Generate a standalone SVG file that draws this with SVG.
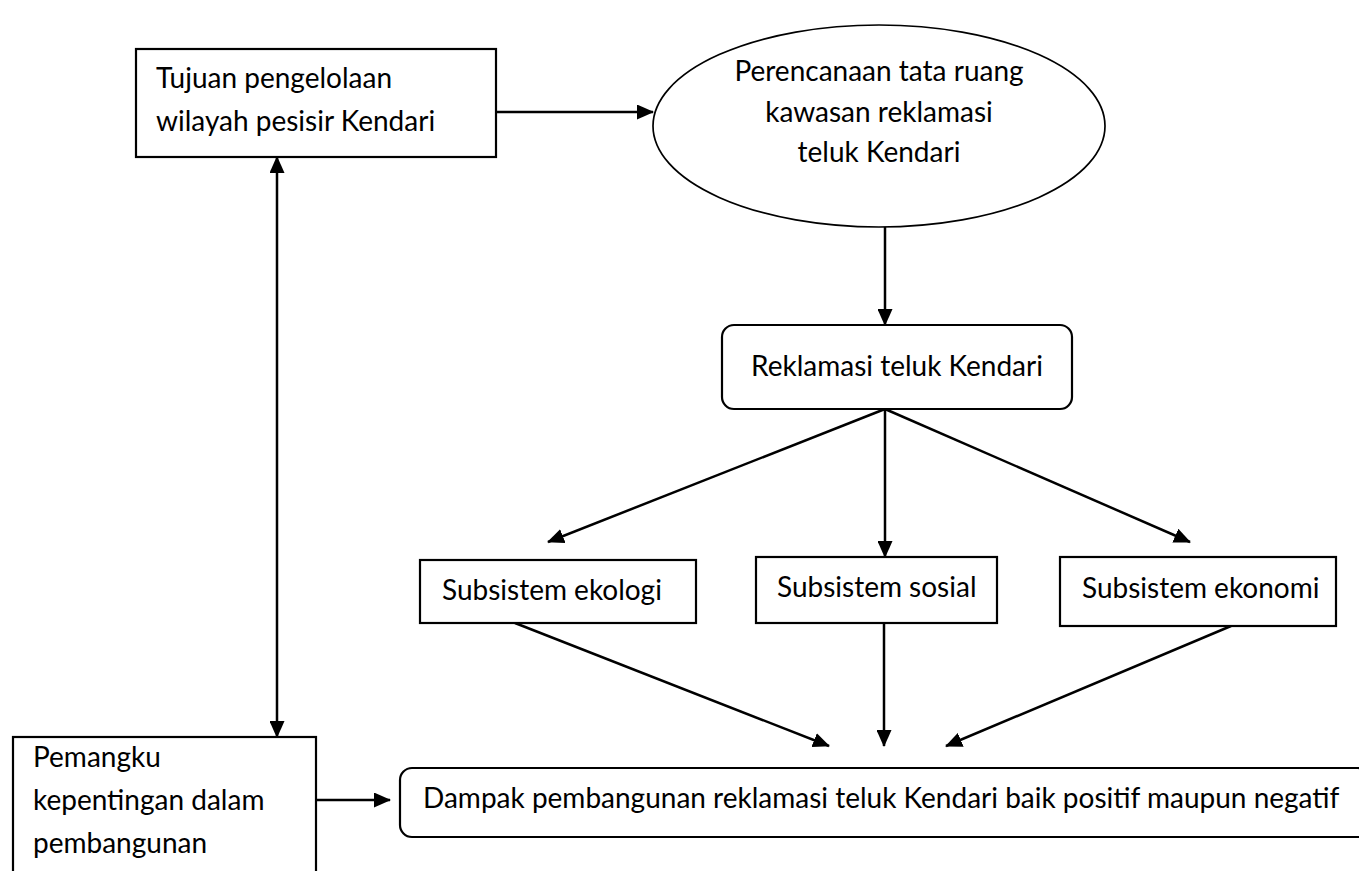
<svg xmlns="http://www.w3.org/2000/svg" width="1359" height="871" viewBox="0 0 1359 871">
<defs>
<marker id="ah" markerUnits="userSpaceOnUse" markerWidth="17" markerHeight="15" refX="16" refY="7.5" orient="auto">
<path d="M0,0 L17,7.5 L0,15 Z" fill="#000"/>
</marker>
<marker id="ahs" markerUnits="userSpaceOnUse" markerWidth="17" markerHeight="15" refX="16" refY="7.5" orient="auto-start-reverse">
<path d="M0,0 L17,7.5 L0,15 Z" fill="#000"/>
</marker>
</defs>
<style>
.box{fill:#fff;stroke:#000;stroke-width:2.2}
.ell{fill:#fff;stroke:#000;stroke-width:1.7}
.t{font-family:Lato,"Open Sans","Liberation Sans",sans-serif;font-size:28px;fill:#000}
.c{text-anchor:middle}
.ln{stroke:#000;stroke-width:2.5;fill:none}
</style>
<rect width="1359" height="871" fill="#fff"/>
<g id="connectors">
<line class="ln" x1="496" y1="112" x2="653" y2="112" marker-end="url(#ah)"/>
<line class="ln" x1="277" y1="157" x2="277" y2="737" marker-start="url(#ahs)" marker-end="url(#ahs)"/>
<line class="ln" x1="885" y1="227" x2="885" y2="325" marker-end="url(#ah)"/>
<line class="ln" x1="885" y1="409" x2="548" y2="542" marker-end="url(#ah)"/>
<line class="ln" x1="885" y1="409" x2="885" y2="557" marker-end="url(#ah)"/>
<line class="ln" x1="885" y1="409" x2="1190" y2="542" marker-end="url(#ah)"/>
<line class="ln" x1="515" y1="623" x2="829" y2="746" marker-end="url(#ah)"/>
<line class="ln" x1="884" y1="623" x2="884" y2="746" marker-end="url(#ah)"/>
<line class="ln" x1="1231" y1="626" x2="946" y2="746" marker-end="url(#ah)"/>
<line class="ln" x1="316" y1="800" x2="390" y2="800" marker-end="url(#ah)"/>
</g>
<g id="tujuan">
<rect class="box" x="136" y="49" width="360" height="108"/>
<text class="t" x="156" y="88">Tujuan pengelolaan</text>
<text class="t" x="156" y="131">wilayah pesisir Kendari</text>
</g>
<g id="perencanaan">
<ellipse class="ell" cx="879" cy="126" rx="226" ry="101"/>
<text class="t c" x="879" y="81">Perencanaan tata ruang</text>
<text class="t c" x="879" y="122">kawasan reklamasi</text>
<text class="t c" x="879" y="162">teluk Kendari</text>
</g>
<g id="reklamasi">
<rect class="box" x="722" y="325" width="350" height="84" rx="12"/>
<text class="t c" x="897" y="376">Reklamasi teluk Kendari</text>
</g>
<g id="ekologi">
<rect class="box" x="420" y="560" width="276" height="63"/>
<text class="t" x="442" y="600">Subsistem ekologi</text>
</g>
<g id="sosial">
<rect class="box" x="756" y="557" width="241" height="66"/>
<text class="t" x="777" y="597">Subsistem sosial</text>
</g>
<g id="ekonomi">
<rect class="box" x="1060" y="557" width="276" height="69"/>
<text class="t" x="1082" y="598">Subsistem ekonomi</text>
</g>
<g id="pemangku">
<rect class="box" x="13" y="737" width="303" height="150"/>
<text class="t" x="33" y="767">Pemangku</text>
<text class="t" x="33" y="810">kepentingan dalam</text>
<text class="t" x="33" y="853">pembangunan</text>
</g>
<g id="dampak">
<rect class="box" x="400" y="768" width="970" height="69" rx="12"/>
<text class="t" x="423" y="808">Dampak pembangunan reklamasi teluk Kendari baik positif maupun negatif</text>
</g>
</svg>
